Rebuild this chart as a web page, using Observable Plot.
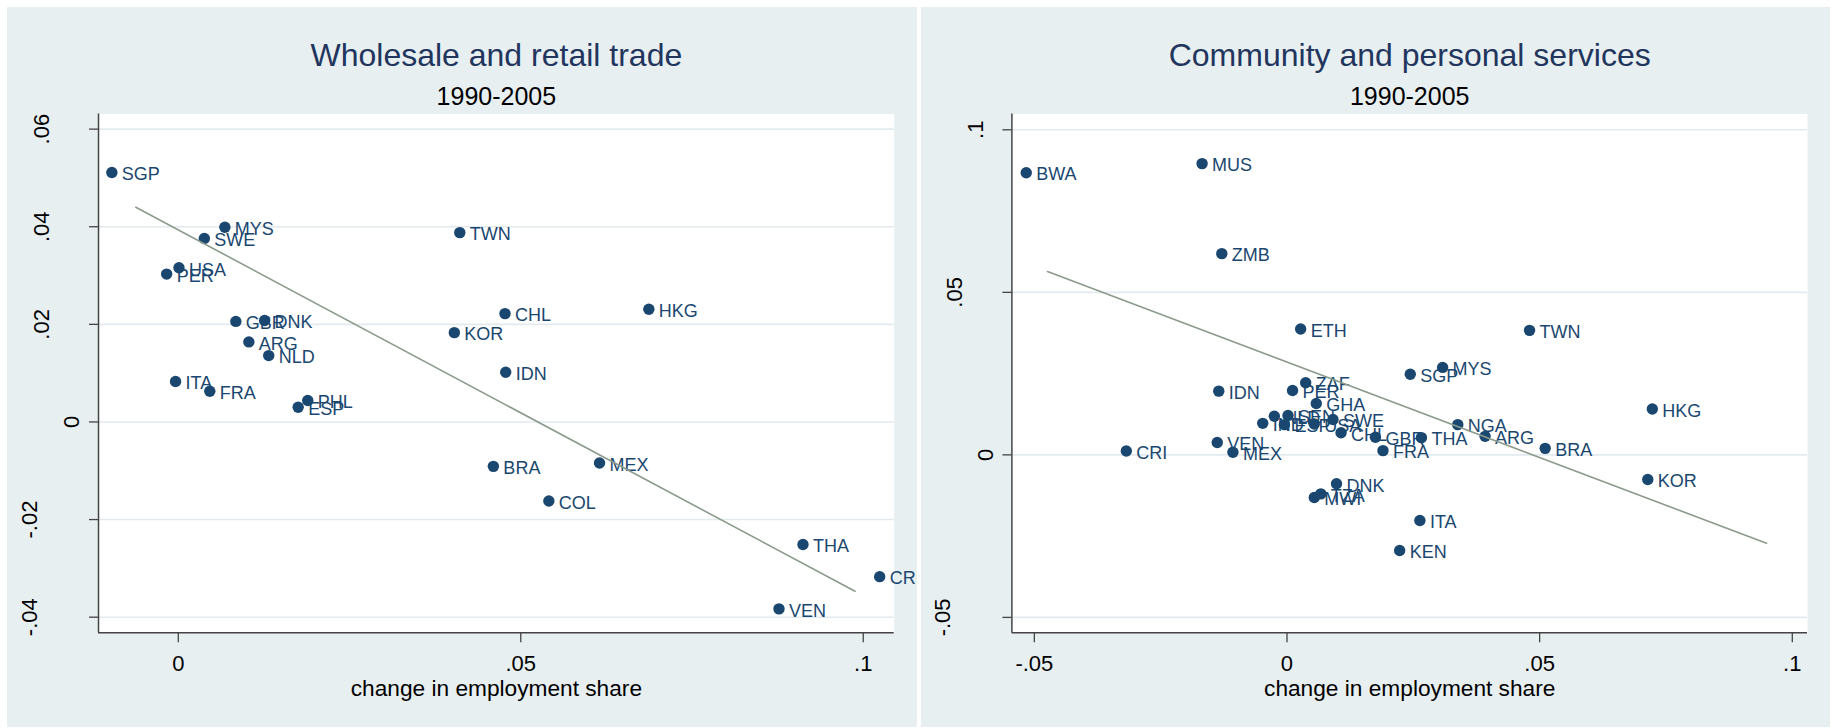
<!DOCTYPE html>
<html>
<head>
<meta charset="utf-8">
<script src="https://cdn.jsdelivr.net/npm/d3@7"></script>
<script src="https://cdn.jsdelivr.net/npm/@observablehq/plot@0.6"></script>
<style>
  html, body { margin: 0; padding: 0; background: #ffffff; }
  #page { position: relative; width: 1835px; height: 728px; overflow: hidden;
          font-family: "Liberation Sans", Arial, sans-serif; }
  .panel { position: absolute; top: 7px; height: 720px; background: #e8eff1; overflow: hidden; }
  .panel svg { display: block; }
</style>
</head>
<body>
<div id="page"></div>
<script>
// Wholesale and retail trade, 1990-2005
const tradeCodes = ["SGP","MYS","SWE","USA","PER","GBR","DNK","ARG","NLD","ITA","FRA","PHL",
                    "ESP","TWN","CHL","KOR","IDN","HKG","BRA","MEX","COL","THA","CRI","VEN"];
const tradeEmpShare = [-0.0097, 0.0068, 0.0038, 0.0001, -0.0017, 0.0084, 0.0126, 0.0103, 0.0132, -0.0004, 0.0046, 0.0189,
                       0.0175, 0.0411, 0.0477, 0.0403, 0.0478, 0.0687, 0.0460, 0.0615, 0.0541, 0.0912, 0.1024, 0.0877];
const tradeProdTerm = [0.0511, 0.0399, 0.0376, 0.0316, 0.0303, 0.0206, 0.0208, 0.0164, 0.0136, 0.0083, 0.0063, 0.0044,
                       0.0030, 0.0388, 0.0222, 0.0183, 0.0102, 0.0231, -0.0091, -0.0084, -0.0162, -0.0251, -0.0317, -0.0383];
const tradeFitX = [-0.0062, 0.0988];
const tradeFitY = [0.0440, -0.0347];
const tradeXTicks = [0, 0.05, 0.1];
const tradeXLabels = ["0", ".05", ".1"];
const tradeYTicks = [-0.04, -0.02, 0, 0.02, 0.04, 0.06];
const tradeYLabels = ["-.04", "-.02", "0", ".02", ".04", ".06"];

// Community and personal services, 1990-2005
const servCodes = ["BWA","MUS","ZMB","ETH","IDN","ZAF","PER","GHA","IND","NLD","SEN","ESP",
                   "USA","SWE","CHL","GBR","THA","FRA","SGP","MYS","TWN","NGA","ARG","BRA",
                   "HKG","KOR","VEN","MEX","CRI","DNK","TZA","MWI","ITA","KEN"];
const servEmpShare = [-0.0516, -0.0168, -0.0129, 0.0027, -0.0135, 0.0037, 0.0011, 0.0058, -0.0048, -0.0025, 0.0002, -0.0005,
                      0.0054, 0.0091, 0.0107, 0.0175, 0.0266, 0.0190, 0.0244, 0.0308, 0.0480, 0.0338, 0.0392, 0.0511,
                      0.0723, 0.0714, -0.0138, -0.0107, -0.0318, 0.0098, 0.0067, 0.0054, 0.0263, 0.0223];
const servProdTerm = [0.0868, 0.0896, 0.0619, 0.0387, 0.0196, 0.0222, 0.0198, 0.0158, 0.0097, 0.0119, 0.0121, 0.0093,
                      0.0095, 0.0109, 0.0068, 0.0054, 0.0053, 0.0013, 0.0248, 0.0269, 0.0383, 0.0093, 0.0057, 0.0020,
                      0.0141, -0.0076, 0.0038, 0.0008, 0.0012, -0.0089, -0.0120, -0.0131, -0.0202, -0.0294];
const servFitX = [-0.0474, 0.0949];
const servFitY = [0.0564, -0.0272];
const servXTicks = [-0.05, 0, 0.05, 0.1];
const servXLabels = ["-.05", "0", ".05", ".1"];
const servYTicks = [-0.05, 0, 0.05, 0.1];
const servYLabels = ["-.05", "0", ".05", ".1"];

const FONT = "'Liberation Sans', Arial, Helvetica, sans-serif";
const NAVY = "#1a476f";
const TITLE_COLOR = "#22355d";
const GRID = "#e2eaee";
const AXIS = "#444444";
const FIT = "#8b9b8c";

// approximate advance width of a numeric label, used to place rotated y labels
function labelWidth(s, size) {
  let w = 0;
  for (const ch of s) w += ch === "." ? 0.278 : ch === "-" ? 0.333 : 0.556;
  return w * size;
}

function panel({left, width, title, subtitle, codes, xs, ys, fitX, fitY,
                xDomain, yDomain, xTicks, xLabels, yTicks, yLabels, marginLeft, marginRight}) {
  const pts = codes.map((c, i) => ({code: c, x: xs[i], y: ys[i]}));
  const fit = fitX.map((x, i) => ({x, y: fitY[i]}));
  const xFmt = d => xLabels[xTicks.indexOf(d)];
  const yLabelMarks = yTicks.map((t, i) => Plot.text([t], {
    y: d => d, text: () => yLabels[i], frameAnchor: "left",
    dx: -(6 + 1.65 * labelWidth(yLabels[i], 22)), rotate: -90,
    textAnchor: "middle", lineAnchor: "middle", fontSize: 22, fill: "#000"
  }));

  const chart = Plot.plot({
    width, height: 720,
    marginLeft, marginRight, marginTop: 106.5, marginBottom: 94.7,
    style: {background: "transparent", fontFamily: FONT, color: "#000", overflow: "hidden"},
    x: {domain: xDomain},
    y: {domain: yDomain},
    marks: [
      Plot.frame({fill: "white", stroke: "none"}),
      Plot.gridY(yTicks, {stroke: GRID, strokeOpacity: 1, strokeWidth: 1.6}),
      Plot.ruleX([xDomain[0]], {stroke: AXIS, strokeWidth: 1.5}),
      Plot.ruleY([yDomain[0]], {stroke: AXIS, strokeWidth: 1.5}),
      Plot.axisY(yTicks, {tickSize: 9, fill: "none", stroke: AXIS, strokeWidth: 1.3, label: null}),
      ...yLabelMarks,
      Plot.axisX(xTicks, {tickSize: 10, tickPadding: 12.8, tickFormat: xFmt, fontSize: 22,
                          stroke: AXIS, strokeWidth: 1.3, fill: "#000", label: null}),
      Plot.text(["change in employment share"], {text: d => d, frameAnchor: "bottom", dy: 63,
                lineAnchor: "bottom", fontSize: 22.7, fill: "#000"}),
      Plot.text([title], {text: d => d, frameAnchor: "top", dy: -48.5, lineAnchor: "bottom",
                fontSize: 32, fill: TITLE_COLOR}),
      Plot.text([subtitle], {text: d => d, frameAnchor: "top", dy: -9.5, lineAnchor: "bottom",
                fontSize: 25, fill: "#000"}),
      Plot.text(pts, {x: "x", y: "y", text: "code", dx: 10, dy: 2, textAnchor: "start",
                lineAnchor: "middle", fontSize: 18, fill: NAVY}),
      Plot.dot(pts, {x: "x", y: "y", r: 5.7, fill: NAVY, stroke: "none"}),
      Plot.line(fit, {x: "x", y: "y", stroke: FIT, strokeWidth: 1.6})
    ]
  });

  const div = document.createElement("div");
  div.className = "panel";
  div.style.left = left + "px";
  div.style.width = width + "px";
  div.appendChild(chart);
  document.getElementById("page").appendChild(div);
}

panel({
  left: 7, width: 910,
  title: "Wholesale and retail trade", subtitle: "1990-2005",
  codes: tradeCodes, xs: tradeEmpShare, ys: tradeProdTerm,
  fitX: tradeFitX, fitY: tradeFitY,
  xDomain: [-0.01165, 0.10452], yDomain: [-0.0432, 0.0631],
  xTicks: tradeXTicks, xLabels: tradeXLabels, yTicks: tradeYTicks, yLabels: tradeYLabels,
  marginLeft: 91, marginRight: 23.3
});

panel({
  left: 921, width: 909,
  title: "Community and personal services", subtitle: "1990-2005",
  codes: servCodes, xs: servEmpShare, ys: servProdTerm,
  fitX: servFitX, fitY: servFitY,
  xDomain: [-0.05444, 0.10301], yDomain: [-0.05474, 0.10486],
  xTicks: servXTicks, xLabels: servXLabels, yTicks: servYTicks, yLabels: servYLabels,
  marginLeft: 90.4, marginRight: 23
});
</script>
</body>
</html>
